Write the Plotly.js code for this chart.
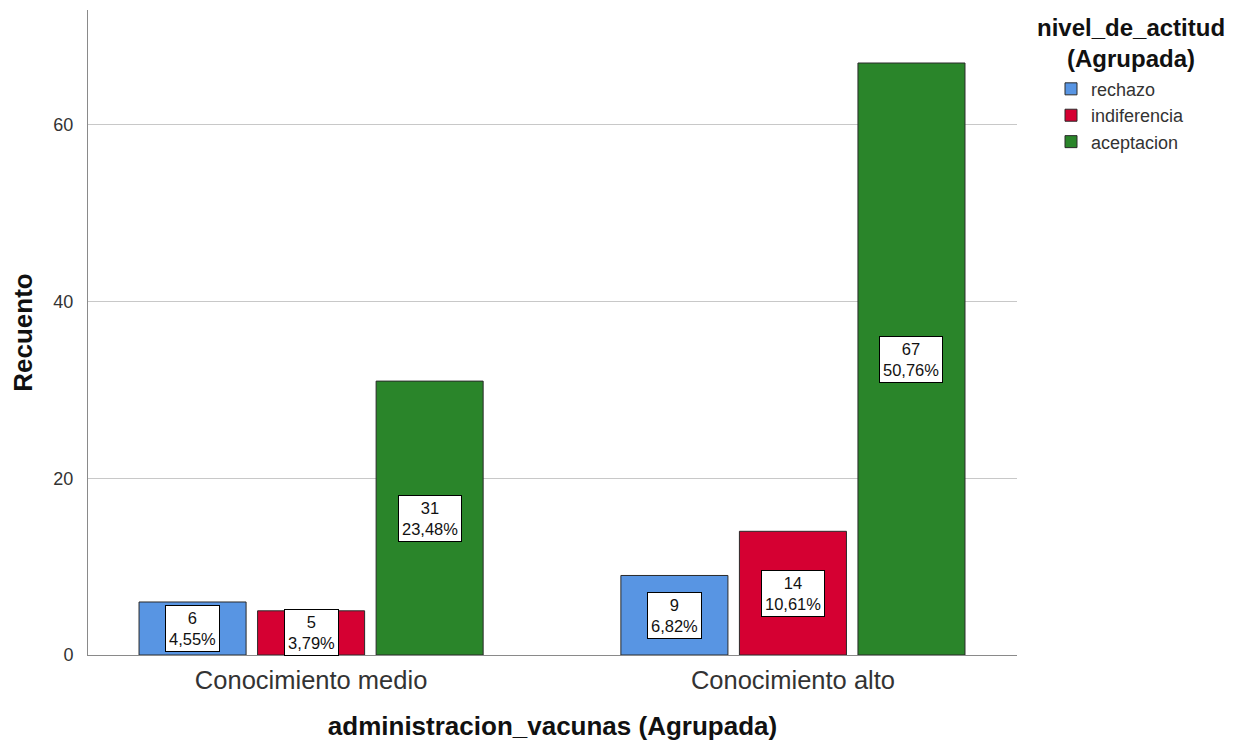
<!DOCTYPE html>
<html>
<head>
<meta charset="utf-8">
<script src="https://cdn.plot.ly/plotly-3.0.1.min.js"></script>
<style>html,body{margin:0;padding:0;background:#fff}#chart{width:1245px;height:745px}</style>
</head>
<body>
<div id="chart"></div>
<script>
var categories = ["Conocimiento medio", "Conocimiento alto"];
var seriesNames = ["rechazo", "indiferencia", "aceptacion"];
var rechazo = [6, 9];
var indiferencia = [5, 14];
var aceptacion = [31, 67];
var percentLabels = [["4,55%", "6,82%"], ["3,79%", "10,61%"], ["23,48%", "50,76%"]];
var yTicks = [0, 20, 40, 60];
var legendTitleLines = ["nivel_de_actitud", "(Agrupada)"];

var seriesValues = [rechazo, indiferencia, aceptacion];
var colors = ["#5895E3", "#D50032", "#2A852A"];
var FONT = "Liberation Sans, Arial, sans-serif";
var bargap = 0.262;
var slot = (1 - bargap) / 3;

var traces = seriesValues.map(function (vals, i) {
  return {
    type: "bar",
    name: seriesNames[i],
    x: categories,
    y: vals,
    marker: { color: colors[i], line: { color: "#2a2a2a", width: 1 } },
    hoverinfo: "skip"
  };
});

var annotations = [];
seriesValues.forEach(function (vals, i) {
  vals.forEach(function (v, j) {
    annotations.push({
      x: j + (i - 1) * slot,
      y: v / 2,
      xref: "x", yref: "y",
      text: v + "<br>" + percentLabels[i][j],
      showarrow: false,
      bgcolor: "#ffffff",
      bordercolor: "#000000",
      borderwidth: 1,
      borderpad: 3,
      font: { family: FONT, size: 16.5, color: "#111" }
    });
  });
});

annotations.push({
  xref: "paper", yref: "paper",
  x: 1.123, y: 0.9496, xanchor: "center", yanchor: "middle",
  text: legendTitleLines.join("<br>"), showarrow: false, align: "center",
  font: { family: FONT, size: 24, color: "#111", weight: "bold" }
});

var layout = {
  width: 1245, height: 745,
  margin: { l: 88, r: 228, t: 10, b: 90 },
  paper_bgcolor: "#fff", plot_bgcolor: "#fff",
  barmode: "group",
  bargap: bargap,
  bargroupgap: 0.097,
  font: { family: FONT, color: "#222" },
  xaxis: {
    type: "category",
    range: [-0.463, 1.465],
    showline: true, linecolor: "#8a8a8a", linewidth: 1,
    showgrid: false, zeroline: false,
    ticks: "", ticklabelstandoff: 2,
    tickfont: { size: 25.5, color: "#333" },
    title: { text: "administracion_vacunas (Agrupada)", font: { size: 26, color: "#111", weight: "bold" }, standoff: 24 }
  },
  yaxis: {
    range: [0, 73],
    tickvals: yTicks,
    ticktext: yTicks.map(String),
    showline: true, linecolor: "#8a8a8a", linewidth: 1,
    showgrid: true, gridcolor: "#c8c8c8", gridwidth: 1,
    zeroline: false,
    ticks: "", ticklabelstandoff: 10,
    tickfont: { size: 18, color: "#333" },
    title: { text: "Recuento", font: { size: 26, color: "#111", weight: "bold" }, standoff: 13 }
  },
  legend: {
    x: 1.0366, xanchor: "left", y: 0.906, yanchor: "top",
    font: { size: 18, color: "#333" },
    tracegroupgap: 0,
    itemwidth: 30
  },
  annotations: annotations,
  showlegend: true
};

Plotly.newPlot("chart", traces, layout, { displayModeBar: false, staticPlot: true });
</script>
</body>
</html>
